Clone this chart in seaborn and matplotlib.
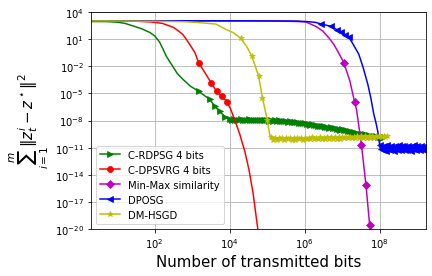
import numpy as np
import pandas as pd
import seaborn as sns
import matplotlib
matplotlib.use("Agg")
import matplotlib.pyplot as plt

# values, stored as (log10 x, log10 y) pairs

# C-RDPSG 4 bits: smooth drop, then a dense marker band
green_head = [(0.3, 2.95), (0.7, 2.94), (1.0, 2.88), (1.2, 2.75), (1.41, 2.48), (1.65, 2.15),
              (1.87, 1.74), (2.0, 1.35), (2.13, 0.67), (2.22, -0.1), (2.31, -0.9), (2.4, -1.5),
              (2.48, -2.0), (2.6, -2.8), (2.75, -3.44), (2.95, -4.2)]
green_tail = [(3.17, -4.78), (3.47, -5.67), (3.6, -6.44), (3.73, -7.0), (3.87, -7.56),
              (4.0, -7.85), (4.05, -7.95), (4.1, -7.88), (4.15, -7.98), (4.2, -7.9), (4.25, -7.96),
              (4.3, -7.87), (4.35, -7.97), (4.4, -7.9), (4.45, -7.98), (4.5, -7.88), (4.55, -7.96),
              (4.6, -7.9), (4.65, -7.99), (4.7, -7.89), (4.75, -7.97), (4.8, -7.91), (4.85, -7.99),
              (4.9, -7.9), (4.95, -7.98), (5.0, -7.92), (5.05, -8.0), (5.1, -7.93), (5.15, -8.02),
              (5.2, -7.96), (5.25, -8.04), (5.3, -7.98), (5.35, -8.07), (5.4, -8.01), (5.45, -8.1),
              (5.5, -8.05), (5.55, -8.14), (5.6, -8.1), (5.65, -8.18), (5.7, -8.12), (5.75, -8.22),
              (5.8, -8.17), (5.85, -8.27), (5.9, -8.24), (5.95, -8.33), (6.0, -8.3), (6.05, -8.4),
              (6.1, -8.36), (6.15, -8.45), (6.2, -8.42), (6.25, -8.52), (6.3, -8.5), (6.35, -8.58),
              (6.4, -8.56), (6.45, -8.66), (6.5, -8.62), (6.55, -8.72), (6.6, -8.7), (6.65, -8.79),
              (6.7, -8.76), (6.75, -8.86), (6.8, -8.83), (6.85, -8.93), (6.9, -8.92), (6.95, -9.01),
              (7.0, -8.99), (7.05, -9.09), (7.1, -9.07), (7.15, -9.17), (7.2, -9.16), (7.25, -9.27),
              (7.3, -9.26), (7.35, -9.36), (7.4, -9.36), (7.45, -9.45), (7.5, -9.44), (7.55, -9.53),
              (7.6, -9.52), (7.65, -9.61), (7.7, -9.6), (7.75, -9.68), (7.8, -9.66), (7.85, -9.75),
              (7.9, -9.74), (7.95, -9.82), (8.0, -9.8), (8.05, -9.88), (8.1, -9.86)]

# C-DPSVRG 4 bits
red_head = [(0.3, 3.02), (1.0, 3.02), (1.5, 2.98), (1.9, 2.9), (2.2, 2.75), (2.5, 2.3),
            (2.65, 1.85), (2.75, 1.5), (2.84, 1.0), (2.95, 0.3), (3.07, -0.48)]
red_marked = [(3.17, -1.59), (3.5, -3.8), (3.65, -4.78), (3.79, -5.33), (3.92, -5.9)]
red_tail = [(4.02, -6.7), (4.13, -7.9), (4.27, -9.56), (4.4, -11.4), (4.51, -13.4),
            (4.62, -16.0), (4.75, -20.1), (4.8, -21.2)]

# Min-Max similarity
mag_head = [(0.3, 3.02), (2.0, 3.02), (4.0, 3.02), (5.0, 3.01), (5.5, 2.98), (5.8, 2.95),
            (6.03, 2.9), (6.3, 2.4), (6.48, 1.9), (6.65, 1.1), (6.77, 0.45), (6.9, -0.5)]
mag_tail = [(7.04, -1.6), (7.2, -3.6), (7.33, -6.0), (7.38, -6.8), (7.51, -10.67),
            (7.63, -15.1), (7.73, -19.6)]
mag_tail_marked = [0, 2, 4, 5, 6]

# DPOSG
blue_head = [(0.3, 3.03), (3.0, 3.03), (5.0, 3.02), (5.8, 3.0), (6.1, 2.93), (6.29, 2.85)]
blue_marked = [(6.44, 2.67), (6.71, 2.41), (6.85, 2.05), (6.97, 1.8), (7.08, 1.45), (7.18, 1.19)]
blue_drop = [(7.3, 0.35), (7.44, -0.67), (7.56, -2.2), (7.68, -4.0), (7.76, -5.5), (7.84, -7.3),
             (7.9, -8.3), (7.95, -9.3), (7.98, -10.3)]
blue_band = [(8.0, -10.7), (8.025, -11.2), (8.05, -10.9), (8.075, -11.3), (8.1, -10.8),
             (8.125, -11.25), (8.15, -11.0), (8.175, -11.35), (8.2, -10.75), (8.225, -11.15),
             (8.25, -10.9), (8.275, -11.3), (8.3, -10.85), (8.325, -11.2), (8.35, -10.95),
             (8.375, -11.35), (8.4, -10.8), (8.425, -11.1), (8.45, -10.9), (8.475, -11.3),
             (8.5, -10.75), (8.525, -11.2), (8.55, -11.0), (8.575, -11.3), (8.6, -10.85),
             (8.625, -11.15), (8.65, -10.8), (8.675, -11.25), (8.7, -10.95), (8.725, -11.3),
             (8.75, -10.8), (8.775, -11.15), (8.8, -10.9), (8.825, -11.35), (8.85, -10.85),
             (8.875, -11.2), (8.9, -10.75), (8.925, -11.15), (8.95, -10.9), (8.975, -11.3),
             (9.0, -10.8), (9.025, -11.2), (9.05, -10.95), (9.075, -11.3), (9.1, -10.8),
             (9.125, -11.2), (9.15, -10.9), (9.175, -11.25), (9.2, -10.85), (9.225, -11.1)]

# DM-HSGD
yel_head = [(0.3, 3.02), (1.0, 3.01), (2.0, 2.98), (2.5, 2.95), (2.85, 2.92), (3.2, 2.82),
            (3.63, 2.67), (3.89, 2.1), (4.1, 1.7)]
yel_drop = [(4.29, 1.1), (4.45, 0.2), (4.59, -0.9), (4.77, -3.1), (4.87, -5.48), (5.0, -7.9),
            (5.07, -9.74)]
yel_drop_marked = [0, 2, 3, 4, 5]
yel_band = [(5.1, -9.85), (5.15, -10.12), (5.2, -9.92), (5.25, -10.15), (5.3, -9.9),
            (5.35, -10.1), (5.4, -9.95), (5.45, -10.18), (5.5, -9.93), (5.55, -10.1),
            (5.6, -9.9), (5.65, -10.14), (5.7, -9.95), (5.75, -10.12), (5.8, -9.9),
            (5.85, -10.1), (5.9, -9.92), (5.95, -10.13), (6.0, -9.88), (6.05, -10.1),
            (6.1, -9.9), (6.15, -10.08), (6.2, -9.87), (6.25, -10.1), (6.3, -9.9),
            (6.35, -10.06), (6.4, -9.86), (6.45, -10.08), (6.5, -9.88), (6.55, -10.05),
            (6.6, -9.85), (6.65, -10.04), (6.7, -9.86), (6.75, -10.02), (6.8, -9.82),
            (6.85, -10.0), (6.9, -9.84), (6.95, -10.0), (7.0, -9.8), (7.05, -9.98),
            (7.1, -9.8), (7.15, -9.96), (7.2, -9.78), (7.25, -9.95), (7.3, -9.77),
            (7.35, -9.94), (7.4, -9.76), (7.45, -9.92), (7.5, -9.74), (7.55, -9.9),
            (7.6, -9.72), (7.65, -9.9), (7.7, -9.72), (7.75, -9.88), (7.8, -9.7),
            (7.85, -9.88), (7.9, -9.7), (7.95, -9.86), (8.0, -9.68), (8.05, -9.86),
            (8.1, -9.68), (8.15, -9.85), (8.2, -9.7)]


def build(parts):
    # parts: list of (points, marked indices within part or None/"all")
    pts, marks = [], []
    for p, m in parts:
        off = len(pts)
        pts += p
        if m == "all":
            marks += [off + i for i in range(len(p))]
        elif m:
            marks += [off + i for i in m]
    return pts, marks


series = [
    ("C-RDPSG 4 bits", build([(green_head, None), (green_tail, "all")]), "g", ">"),
    ("C-DPSVRG 4 bits", build([(red_head, None), (red_marked, "all"), (red_tail, None)]), "r", "o"),
    ("Min-Max similarity", build([(mag_head, None), (mag_tail, mag_tail_marked)]), "m", "D"),
    ("DPOSG", build([(blue_head, None), (blue_marked, "all"), (blue_drop, None),
                     (blue_band, "all")]), "b", "<"),
    ("DM-HSGD", build([(yel_head, None), (yel_drop, yel_drop_marked), (yel_band, "all")]), "y", "*"),
]

fig, ax = plt.subplots(figsize=(6, 3.8472), dpi=72)
fig.subplots_adjust(left=0.2106, right=0.986, bottom=0.1697, top=0.953)

for name, (pts, marks), col, mk in series:
    lx, ly = zip(*pts)
    df = pd.DataFrame({"x": 10.0 ** np.array(lx), "y": 10.0 ** np.array(ly)})
    sns.lineplot(data=df, x="x", y="y", ax=ax, color=col, marker=mk, markevery=marks,
                 markersize=6, markeredgecolor=col, linewidth=1.5, label=name,
                 estimator=None, sort=False)

ax.set_xscale("log")
ax.set_yscale("log")
ax.set_xlim(10 ** 0.3, 10 ** 9.23)
ax.set_ylim(1e-20, 1e4)
ax.set_yticks([10.0 ** k for k in range(-20, 5, 3)])
ax.set_xticks([1e2, 1e4, 1e6, 1e8])
ax.minorticks_off()
ax.grid(True, color="#b0b0b0", linewidth=0.8)
ax.tick_params(labelsize=10)

ax.set_xlabel("Number of transmitted bits", fontsize=15)
ax.set_ylabel(r"$\sum_{i=1}^{m}\|z_t^i - z^\star\|^2$", fontsize=15)
ax.legend(loc="lower left", fontsize=10)

fig.savefig("out.png", dpi=72)
